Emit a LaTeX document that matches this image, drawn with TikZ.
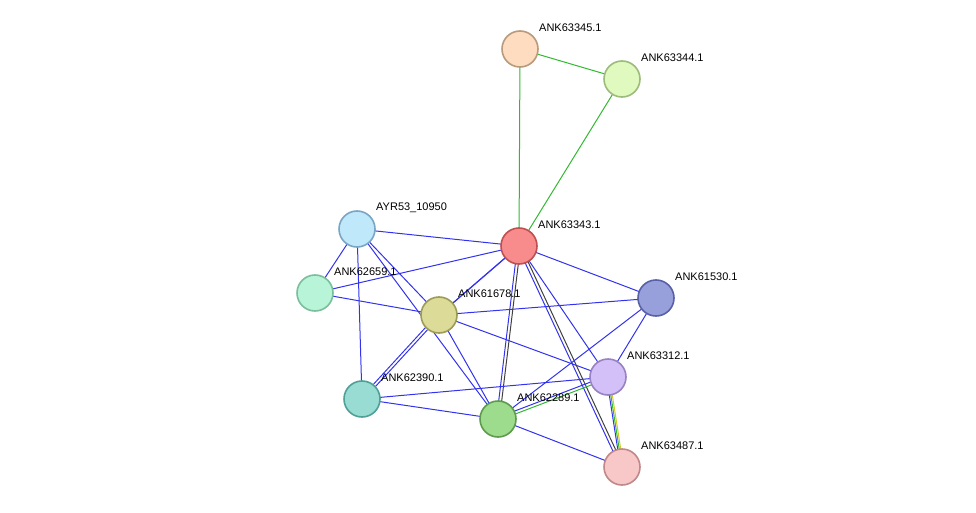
\documentclass[tikz,border=0pt]{standalone}
\usepackage{fontspec}
\setmainfont{Liberation Sans}
\begin{document}
\begin{tikzpicture}[x=1pt,y=-1pt,
  nd/.style={circle,minimum size=36pt,inner sep=0pt,line width=1.6pt},
  lb/.style={anchor=west,font=\fontsize{11}{12}\selectfont,inner sep=0pt},
  bl/.style={draw=blue!80!white,line width=1pt},
  gr/.style={draw=green!70!black,line width=1pt},
  dk/.style={draw=black!75,line width=1pt},
  yl/.style={draw=yellow!80!black,line width=1pt}]
\useasboundingbox (0,0) rectangle (976,513);
\definecolor{e}{HTML}{3333EE}
\tikzset{bl/.style={draw=e,line width=1pt},gr/.style={draw=green!65!black!80,line width=1pt}}
\coordinate (p45) at (520,49); \coordinate (p44) at (622,79);
\coordinate (p43) at (519,246); \coordinate (pay) at (357,229);
\coordinate (p59) at (315,293); \coordinate (p78) at (439,315);
\coordinate (p30) at (656,298); \coordinate (p12) at (608,377);
\coordinate (p90) at (362,399); \coordinate (p89) at (498,419);
\coordinate (p87) at (622,467);
% edges
\draw[gr] (p45)--(p44); \draw[gr] (p45)--(p43); \draw[gr] (p44)--(p43);
\draw[bl] (pay)--(p43); \draw[bl] (pay)--(p59); \draw[bl] (pay)--(p78);
\draw[bl] (pay)--(p90); \draw[bl] (pay)--(p89);
\draw[bl] (p59)--(p43); \draw[bl] (p59)--(p78);
\draw[bl,transform canvas={shift={(1.1pt,1.1pt)}}] (p78)--(p43);
\draw[bl,transform canvas={shift={(-1.1pt,-1.1pt)}}] (p78)--(p43);
\draw[bl] (p78)--(p30); \draw[bl] (p78)--(p12); \draw[bl] (p78)--(p89);
\draw[bl,transform canvas={shift={(1.1pt,-1pt)}}] (p78)--(p90);
\draw[bl,transform canvas={shift={(-1.1pt,1pt)}}] (p78)--(p90);
\draw[bl] (p43)--(p30); \draw[bl] (p43)--(p12);
\draw[bl,transform canvas={shift={(-1.5pt,0pt)}}] (p43)--(p89);
\draw[dk,transform canvas={shift={(1.5pt,0pt)}}] (p43)--(p89);
\draw[bl,transform canvas={shift={(-1.4pt,-0.6pt)}}] (p43)--(p87);
\draw[dk,transform canvas={shift={(1.4pt,0.6pt)}}] (p43)--(p87);
\draw[bl] (p30)--(p12); \draw[bl] (p30)--(p89);
\draw[bl] (p12)--(p90);
\draw[gr,transform canvas={shift={(0.5pt,-1.4pt)}}] (p12)--(p89);
\draw[bl,transform canvas={shift={(-0.5pt,1.4pt)}}] (p12)--(p89);
\draw[bl,transform canvas={shift={(-1.5pt,0pt)}}] (p12)--(p87);
\draw[gr] (p12)--(p87);
\draw[yl,transform canvas={shift={(1.5pt,0pt)}}] (p12)--(p87);
\draw[bl] (p90)--(p89); \draw[bl] (p89)--(p87);
% nodes
\node[nd,fill={rgb,255:red,253;green,220;blue,192},draw={rgb,255:red,184;green,154;blue,124}] (n45) at (p45) {};
\node[nd,fill={rgb,255:red,223;green,249;blue,190},draw={rgb,255:red,157;green,187;blue,124}] (n44) at (p44) {};
\node[nd,fill={rgb,255:red,248;green,140;blue,140},draw={rgb,255:red,192;green,80;blue,80}] (n43) at (p43) {};
\node[nd,fill={rgb,255:red,192;green,232;blue,251},draw={rgb,255:red,122;green,166;blue,196}] (nay) at (pay) {};
\node[nd,fill={rgb,255:red,184;green,244;blue,216},draw={rgb,255:red,122;green,191;blue,154}] (n59) at (p59) {};
\node[nd,fill={rgb,255:red,220;green,220;blue,152},draw={rgb,255:red,156;green,156;blue,88}] (n78) at (p78) {};
\node[nd,fill={rgb,255:red,152;green,160;blue,220},draw={rgb,255:red,88;green,96;blue,168}] (n30) at (p30) {};
\node[nd,fill={rgb,255:red,212;green,192;blue,248},draw={rgb,255:red,152;green,130;blue,192}] (n12) at (p12) {};
\node[nd,fill={rgb,255:red,152;green,220;blue,212},draw={rgb,255:red,80;green,160;blue,152}] (n90) at (p90) {};
\node[nd,fill={rgb,255:red,156;green,220;blue,140},draw={rgb,255:red,92;green,156;blue,76}] (n89) at (p89) {};
\node[nd,fill={rgb,255:red,248;green,200;blue,200},draw={rgb,255:red,192;green,136;blue,136}] (n87) at (p87) {};
% labels
\foreach \n/\t in {45/ANK63345.1,44/ANK63344.1,43/ANK63343.1,ay/AYR53\_10950,59/ANK62659.1,78/ANK61678.1,30/ANK61530.1,12/ANK63312.1,90/ANK62390.1,89/ANK62289.1,87/ANK63487.1}
  \node[lb] at ([shift={(19,-21)}]p\n) {\t};
\end{tikzpicture}
\end{document}
